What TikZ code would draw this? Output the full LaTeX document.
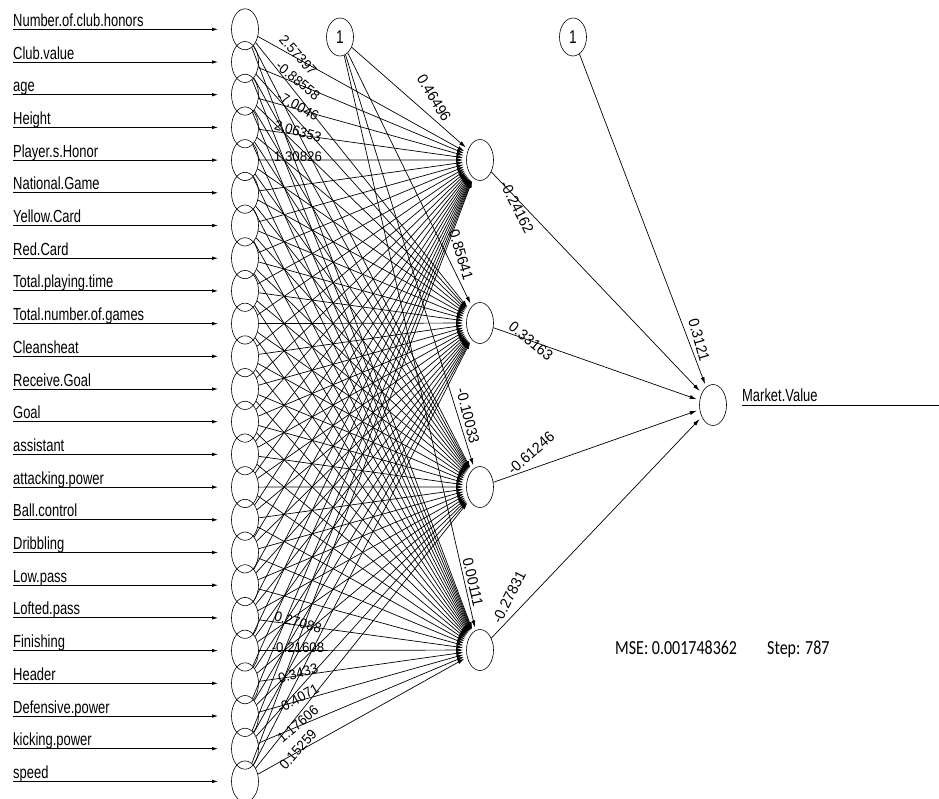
\documentclass[tikz,border=0pt]{standalone}
\usepackage{fontspec}
\setmainfont{Liberation Sans}
\newfontfamily\inlab{Liberation Sans}[FakeStretch=0.74]
\newfontfamily\wlab{Liberation Sans}[FakeStretch=0.95]
\newfontfamily\msefont{Carlito}[FakeStretch=0.8]
\usetikzlibrary{shapes.geometric,arrows.meta}
\begin{document}
\begin{tikzpicture}[x=1pt,y=-1pt,
  neuron/.style={draw, ellipse, minimum width=27pt, minimum height=41pt, inner sep=0pt, line width=0.6pt},
  conn/.style={-{Latex[length=7pt,width=4pt]}, line width=0.7pt, shorten >=3pt},
  inarrow/.style={-{Latex[length=6pt,width=3.5pt]}, line width=0.9pt},
  namelab/.style={anchor=base west, inner sep=0pt, font=\inlab\fontsize{17.5}{18}\selectfont},
  wlabel/.style={inner sep=0pt, font=\wlab\fontsize{15}{15}\selectfont},
  iwlabel/.style={inner sep=0pt, font=\wlab\fontsize{14}{14}\selectfont}]
\useasboundingbox (0,0) rectangle (939,798);
\fill[white] (0,0) rectangle (939,798);
% input layer
\foreach \name [count=\i] in {Number.of.club.honors,Club.value,age,Height,Player.s.Honor,National.Game,Yellow.Card,Red.Card,Total.playing.time,Total.number.of.games,Cleansheat,Receive.Goal,Goal,assistant,attacking.power,Ball.control,Dribbling,Low.pass,Lofted.pass,Finishing,Header,Defensive.power,kicking.power,speed}{
  \pgfmathsetmacro\yy{29.3+32.7*(\i-1)}
  \node[neuron] (in\i) at (245,\yy) {};
  \coordinate (s\i) at (13,\yy);
  \draw[inarrow, shorten >=13pt] (s\i) -- (in\i);
  \node[namelab] (n\i) at (13,\yy-3) {\name};
}
% hidden, bias, output
\node[neuron] (h1) at (480,160) {};
\node[neuron] (h2) at (480,323) {};
\node[neuron] (h3) at (480,487) {};
\node[neuron] (h4) at (480,650) {};
\node[neuron, minimum height=38pt] (b1) at (340,37) {\inlab\fontsize{18.5}{19}\selectfont 1};
\node[neuron, minimum height=38pt] (b2) at (573,37) {\inlab\fontsize{18.5}{19}\selectfont 1};
\node[neuron] (out) at (713,405) {};
% input -> hidden
\foreach \i in {1,...,24}{
  \foreach \j in {1,...,4}{
    \draw[conn] (in\i) -- (h\j);
  }
}
\foreach \j in {1,...,4}{
  \draw[conn] (b1) -- (h\j);
  \draw[conn] (h\j) -- (out);
}
\draw[conn] (b2) -- (out);
% output arrow
\coordinate (os) at (742,405);
\coordinate (oe) at (990,405);
\draw[inarrow] (os) -- (oe);
\node[namelab] (mv) at (742,401.5) {Market.Value};
% readable input weights
\foreach \i/\j/\w in {1/1/2.57397, 2/1/-0.88558, 3/1/-7.0046, 4/1/2.06353, 5/1/1.30826,
                      19/4/0.27088, 20/4/-0.21608, 21/4/0.3433, 22/4/-0.4071, 23/4/1.17606, 24/4/0.15259}{
  \pgfmathsetmacro\yi{29.3+32.7*(\i-1)}
  \pgfmathsetmacro\hj{160+163.33*(\j-1)}
  \pgfmathsetmacro\ang{-atan(2*(\hj-\yi)/235)}
  \pgfmathsetmacro\ly{\yi+0.22*(\hj-\yi)-3}
  \node[iwlabel, rotate=\ang] (w\i-\j) at (298,\ly) {\w};
}
% other weights
\node[wlabel, rotate=-59] (wb1) at (434,98) {0.46496};
\node[wlabel, rotate=-63] (wo1) at (517,207) {-0.24162};
\node[wlabel, rotate=-73] (wb2) at (461,255) {0.85641};
\node[wlabel, rotate=-39] (wo2) at (531,341) {0.33163};
\node[wlabel, rotate=-76] (wb3) at (468,416) {-0.10033};
\node[wlabel, rotate=41] (wo3) at (531,453) {-0.61246};
\node[wlabel, rotate=-77] (wb4) at (473,582) {0.00111};
\node[wlabel, rotate=63] (wo4) at (509,597) {-0.27831};
\node[wlabel, rotate=-74] (wbo) at (699,340) {0.3121};
% error
\node[anchor=base west, inner sep=0pt, font=\msefont\fontsize{20}{20}\selectfont] (mse) at (615,654) {MSE: 0.001748362};
\node[anchor=base west, inner sep=0pt, font=\msefont\fontsize{20}{20}\selectfont] (stp) at (767,654) {Step: 787};
\end{tikzpicture}
\end{document}
